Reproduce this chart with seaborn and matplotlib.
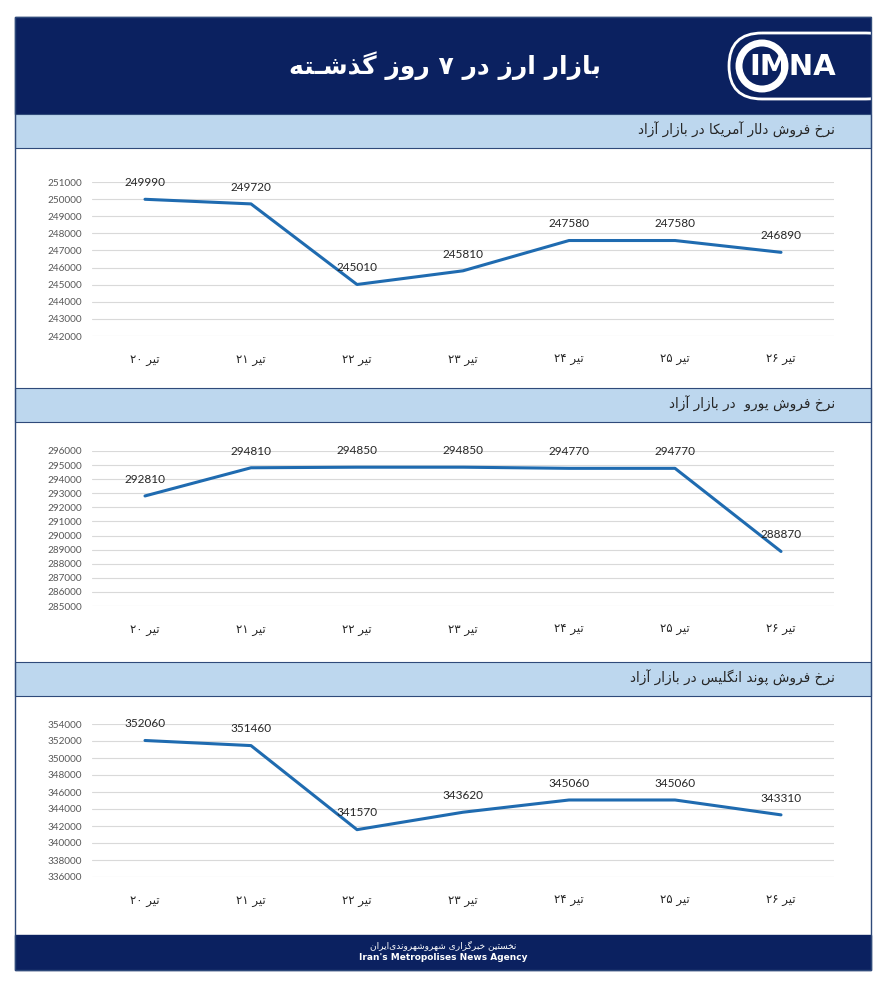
import matplotlib
matplotlib.use("Agg")
import matplotlib.pyplot as plt
import seaborn as sns
from matplotlib.patches import Rectangle, FancyBboxPatch, Circle

# ---- data ----
days = ["۲۰", "۲۱", "۲۲", "۲۳", "۲۴", "۲۵", "۲۶"]
usd = [249990, 249720, 245010, 245810, 247580, 247580, 246890]
eur = [292810, 294810, 294850, 294850, 294770, 294770, 288870]
gbp = [352060, 351460, 341570, 343620, 345060, 345060, 343310]

title = "بازار ارز در ۷ روز گذشـته"
panel_titles = [
    "نرخ فروش دلار آمریکا در بازار آزاد",
    "نرخ فروش یورو  در بازار آزاد",
    "نرخ فروش پوند انگلیس در بازار آزاد",
]
footer_fa = "نخستین خبرگزاری شهروشهروندی\u200cایران"
footer_en = "Iran's Metropolises News Agency"

# y ranges of each chart (min, max, step)
ranges = [(242000, 251000, 1000), (285000, 296000, 1000), (336000, 354000, 2000)]

# ---- tiny persian shaper (matplotlib has no bidi / shaping) ----
FORMS = {  # isolated, final, initial, medial
    'ا': ('\uFE8D', '\uFE8E', None, None),
    'آ': ('\uFE81', '\uFE82', None, None),
    'ب': ('\uFE8F', '\uFE90', '\uFE91', '\uFE92'),
    'پ': ('\uFB56', '\uFB57', '\uFB58', '\uFB59'),
    'ت': ('\uFE95', '\uFE96', '\uFE97', '\uFE98'),
    'خ': ('\uFEA5', '\uFEA6', '\uFEA7', '\uFEA8'),
    'د': ('\uFEA9', '\uFEAA', None, None),
    'ذ': ('\uFEAB', '\uFEAC', None, None),
    'ر': ('\uFEAD', '\uFEAE', None, None),
    'ز': ('\uFEAF', '\uFEB0', None, None),
    'س': ('\uFEB1', '\uFEB2', '\uFEB3', '\uFEB4'),
    'ش': ('\uFEB5', '\uFEB6', '\uFEB7', '\uFEB8'),
    'ف': ('\uFED1', '\uFED2', '\uFED3', '\uFED4'),
    'ک': ('\uFB8E', '\uFB8F', '\uFB90', '\uFB91'),
    'گ': ('\uFB92', '\uFB93', '\uFB94', '\uFB95'),
    'ل': ('\uFEDD', '\uFEDE', '\uFEDF', '\uFEE0'),
    'م': ('\uFEE1', '\uFEE2', '\uFEE3', '\uFEE4'),
    'ن': ('\uFEE5', '\uFEE6', '\uFEE7', '\uFEE8'),
    'و': ('\uFEED', '\uFEEE', None, None),
    'ه': ('\uFEE9', '\uFEEA', '\uFEEB', '\uFEEC'),
    'ی': ('\uFBFC', '\uFBFD', '\uFBFE', '\uFBFF'),
    'ـ': ('\u0640', '\u0640', '\u0640', '\u0640'),
}
DIGITS = set("۰۱۲۳۴۵۶۷۸۹0123456789")


def fa(text):
    out = []
    for i, ch in enumerate(text):
        if ch not in FORMS:
            out.append(ch)
            continue
        prev = text[i - 1] if i > 0 else ''
        nxt = text[i + 1] if i + 1 < len(text) else ''
        before = prev in FORMS and FORMS[prev][2] is not None
        after = FORMS[ch][2] is not None and nxt in FORMS
        iso, fin, ini, med = FORMS[ch]
        if before and after:
            out.append(med)
        elif before:
            out.append(fin)
        elif after:
            out.append(ini)
        else:
            out.append(iso)
    s = ''.join(out).replace('\u200c', '')[::-1]
    # keep digit runs left-to-right
    res, run = [], []
    for ch in s:
        if ch in DIGITS:
            run.append(ch)
        else:
            res.extend(run[::-1]); run = []
            res.append(ch)
    res.extend(run[::-1])
    return ''.join(res)


sns.set_theme(style="white")
plt.rcParams['font.family'] = ['Lato', 'DejaVu Sans']

W, H = 888, 1000
fig = plt.figure(figsize=(W / 100, H / 100), dpi=100)
bg = fig.add_axes([0, 0, 1, 1])
bg.set_xlim(0, W)
bg.set_ylim(H, 0)
bg.axis("off")

navy = "#0B2160"
light = "#BDD7EE"

# header
bg.add_patch(Rectangle((15, 17), 856, 97, color=navy, zorder=1))
bg.text(445, 66, fa(title), color="white", fontsize=18, fontweight="bold",
        ha="center", va="center", family="DejaVu Sans")
# logo
bg.add_patch(FancyBboxPatch((729, 33), 170, 66, boxstyle="round,pad=0,rounding_size=33",
                            fill=False, ec="white", lw=2, zorder=2))
bg.add_patch(Circle((762, 66), 23, fill=False, ec="white", lw=5, zorder=2))
bg.text(793, 67, "IMNA", color="white", fontsize=21, fontweight="bold",
        ha="center", va="center", family="DejaVu Sans", zorder=3)
bg.add_patch(Rectangle((871.5, 17), 20, 97, color="white", zorder=4))

# panel bands
band_tops = [114, 388, 662]
for top, t in zip(band_tops, panel_titles):
    bg.add_patch(Rectangle((15, top), 856, 34, fc=light, ec="#2F4A7A", lw=0.8, zorder=1))
    bg.text(835, top + 16, fa(t), color="#262626", fontsize=9.8,
            ha="right", va="center", family="DejaVu Sans")

# footer
bg.add_patch(Rectangle((15, 935), 856, 35, color=navy, zorder=1))
bg.text(443, 945, fa(footer_fa), color="white", fontsize=6.5,
        ha="center", va="center", family="DejaVu Sans")
bg.text(443, 958, footer_en, color="white", fontsize=6.5, fontweight="bold",
        ha="center", va="center", family="DejaVu Sans")

# outer frame
bg.add_patch(Rectangle((15, 17), 856, 953, fill=False, ec="#2F4A7A", lw=1, zorder=5))

# charts
plot_boxes = [(182, 336), (451, 606), (724, 877)]
series = [usd, eur, gbp]
xlabels = [d + " " + fa("تیر") for d in days]
xs = list(range(len(days)))

for (ytop, ybot), vals, (lo, hi, step) in zip(plot_boxes, series, ranges):
    ax = fig.add_axes([92 / W, 1 - ybot / H, (834 - 92) / W, (ybot - ytop) / H])
    sns.lineplot(x=xs, y=vals, ax=ax, color="#1F6BB0", linewidth=2.2)
    ax.set_xlim(-0.5, 6.5)
    ax.set_ylim(lo, hi)
    ax.set_yticks(range(lo, hi + 1, step))
    ax.set_yticklabels([str(v) for v in range(lo, hi + 1, step)], fontsize=7.2, color="#595959")
    ax.set_xticks(xs)
    ax.set_xticklabels(xlabels, fontsize=8.5, color="#262626", family="DejaVu Sans")
    ax.tick_params(axis="x", length=0, pad=12)
    ax.tick_params(axis="y", length=0, pad=7)
    ax.grid(axis="y", color="#D9D9D9", linewidth=0.8)
    ax.set_axisbelow(True)
    for s in ax.spines.values():
        s.set_visible(False)
    ax.set_facecolor("none")
    ax.set_xlabel("")
    ax.set_ylabel("")
    for x, v in zip(xs, vals):
        ax.annotate(str(v), (x, v), xytext=(0, 12), textcoords="offset points",
                    ha="center", va="center", fontsize=8.5, color="#262626",
                    annotation_clip=False)

fig.savefig("out.png", dpi=100)
